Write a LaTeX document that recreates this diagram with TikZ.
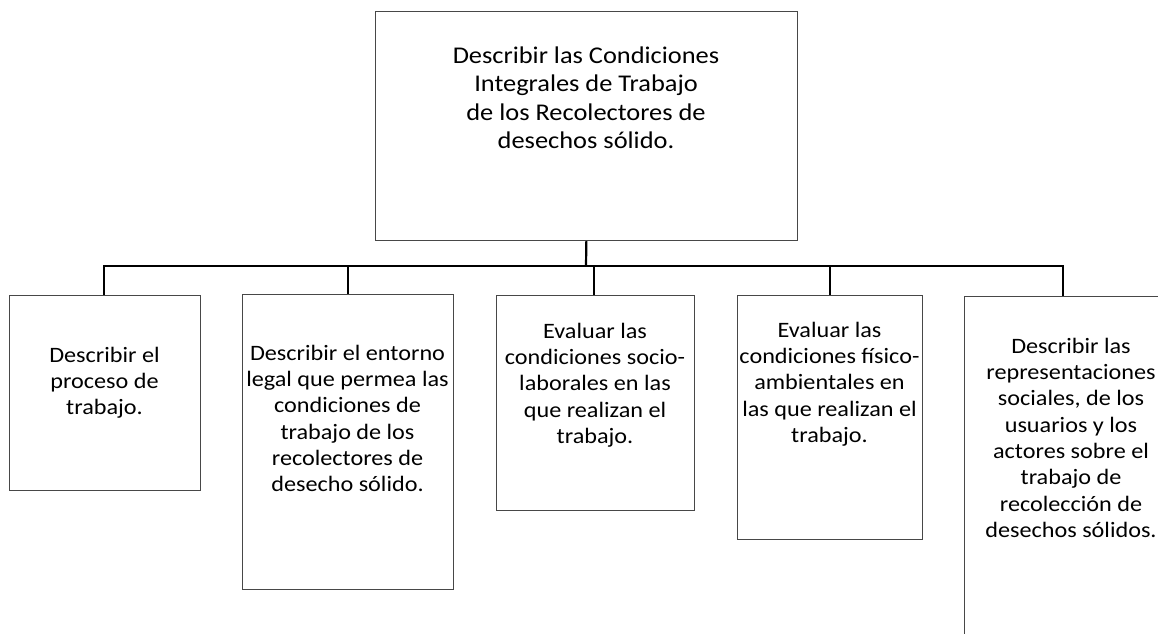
\documentclass[tikz,border=0pt]{standalone}
\usepackage{fontspec}
\setmainfont{Carlito}[FakeStretch=1.1]
\usetikzlibrary{calc}
\newcommand\fstrut{\rule{0pt}{17pt}}
\newcommand\tstrut{\rule{0pt}{18pt}}
\tikzset{
  frame/.style={draw=black!72, line width=1.2pt, fill=white, inner sep=0pt, anchor=north west},
  lbl/.style={inner sep=0pt, anchor=north, align=center, text=black, font=\fontsize{22}{26.3}\selectfont},
  toplbl/.style={lbl, font=\fontsize{24}{28.5}\selectfont},
  conn/.style={draw=black, line width=2.2pt}
}
\begin{document}
\begin{tikzpicture}[x=1pt, y=-1pt]
\useasboundingbox (0,0) rectangle (1158,633);
\clip (0,0) rectangle (1158,633);
% boxes
\node[frame, minimum width=422.5pt, minimum height=229pt] (top) at (374.5,11) {};
\node[frame, minimum width=191pt, minimum height=195pt] (b1) at (9,295) {};
\node[frame, minimum width=211pt, minimum height=295pt] (b2) at (242,294) {};
\node[frame, minimum width=198pt, minimum height=215pt] (b3) at (496,295) {};
\node[frame, minimum width=185pt, minimum height=244pt] (b4) at (737,295) {};
\node[frame, minimum width=216pt, minimum height=404pt] (b5) at (964,296) {};
% texts
\node[toplbl] (ttop) at (586,45) {\tstrut Describir las Condiciones\\Integrales de Trabajo\\de los Recolectores de\\desechos sólido.};
\node[lbl] (t1) at (104.5,345) {\fstrut Describir el\\proceso de\\trabajo.};
\node[lbl] (t2) at (347.5,343) {\fstrut Describir el entorno\\legal que permea las\\condiciones de\\trabajo de los\\recolectores de\\desecho sólido.};
\node[lbl] (t3) at (595,321) {\fstrut Evaluar las\\condiciones socio-\\laborales en las\\que realizan el\\trabajo.};
\node[lbl] (t4) at (829.5,320) {\fstrut Evaluar las\\condiciones físico-\\ambientales en\\las que realizan el\\trabajo.};
\node[lbl] (t5) at (1071,336) {\fstrut Describir las\\representaciones\\sociales, de los\\usuarios y los\\actores sobre el\\trabajo de\\recolección de\\desechos sólidos.};
% connectors
\coordinate (j) at (586,266);
\coordinate (busL) at (104,266);
\coordinate (busR) at (1063,266);
\coordinate (k3) at (594,266);
\coordinate (k5) at (1063,266);
\draw[conn] (top.south) -- (j);
\draw[conn, line cap=rect] (busL) -- (busR);
\draw[conn] (busL) -- (busL |- b1.north);
\draw[conn] (b2.north |- j) -- (b2.north);
\draw[conn] (k3) -- (k3 |- b3.north);
\draw[conn] (b4.north |- j) -- (b4.north);
\draw[conn] (k5) -- (k5 |- b5.north);
\end{tikzpicture}
\end{document}
